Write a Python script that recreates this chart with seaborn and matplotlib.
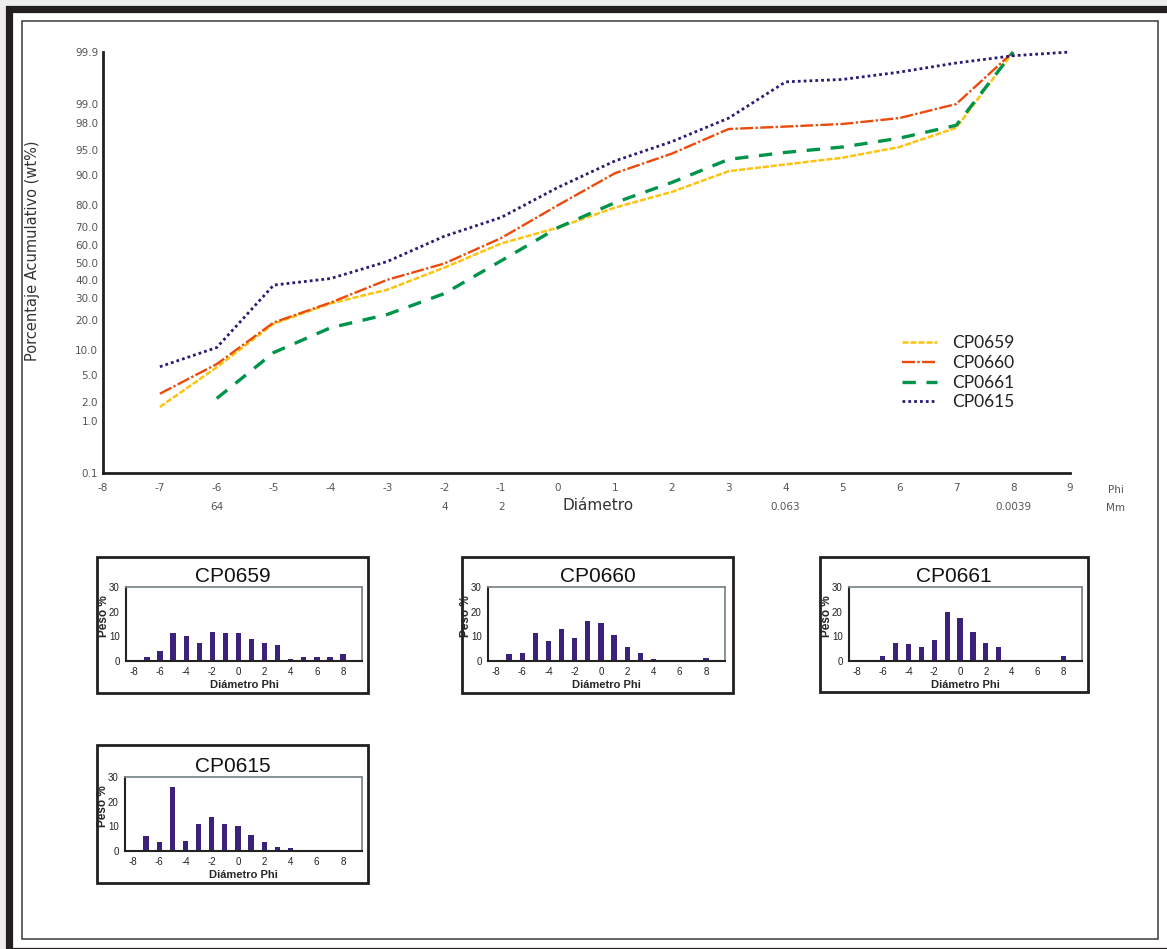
import math
import numpy as np
import pandas as pd
import matplotlib
matplotlib.use("Agg")
import matplotlib.pyplot as plt
from matplotlib.patches import Rectangle
from matplotlib.ticker import MultipleLocator, NullLocator, FixedLocator
import seaborn as sns

# ---------------- datos ----------------
# curvas acumuladas (% acumulado por diametro Phi)
phi_0659 = [-7, -6, -5, -4, -3, -2, -1, 0, 1, 2, 3, 4, 5, 6, 7, 8]
acum_0659 = [1.7, 6.2, 18.4, 27.4, 34.5, 47.0, 61.0, 69.6, 79.0, 85.0, 91.0, 92.5, 93.8, 95.5, 97.6, 99.9]
phi_0660 = [-7, -6, -5, -4, -3, -2, -1, 0, 1, 2, 3, 4, 5, 6, 7, 8]
acum_0660 = [2.7, 6.8, 18.9, 27.8, 40.0, 49.4, 64.0, 80.0, 90.5, 94.5, 97.5, 97.7, 97.9, 98.3, 99.0, 99.9]
phi_0661 = [-6, -5, -4, -3, -2, -1, 0, 1, 2, 3, 4, 5, 6, 7, 8]
acum_0661 = [2.3, 9.3, 16.9, 22.3, 32.4, 51.0, 69.6, 81.0, 88.0, 93.5, 94.7, 95.5, 96.6, 97.8, 99.9]
phi_0615 = [-7, -6, -5, -4, -3, -2, -1, 0, 1, 2, 3, 4, 5, 6, 7, 8, 9]
acum_0615 = [6.3, 10.6, 37.0, 40.7, 50.6, 65.0, 74.6, 86.5, 93.2, 96.2, 98.3, 99.6, 99.64, 99.74, 99.83, 99.88, 99.9]

muestras = ["CP0659", "CP0660", "CP0661", "CP0615"]

# histogramas (peso % por clase Phi)
phi_hist = [-7, -6, -5, -4, -3, -2, -1, 0, 1, 2, 3, 4, 5, 6, 7, 8]
peso_0659 = [1.6, 4.0, 11.2, 10.1, 7.5, 11.8, 11.2, 11.2, 8.9, 7.5, 6.5, 1.0, 1.6, 1.6, 1.6, 2.8]
peso_0660 = [2.7, 3.3, 11.2, 8.0, 13.0, 9.3, 16.1, 15.4, 10.5, 5.6, 3.1, 0.7, 0.0, 0.0, 0.4, 1.2]
peso_0661 = [0.0, 1.9, 7.4, 6.7, 5.5, 8.6, 19.9, 17.6, 11.6, 7.4, 5.5, 0.5, 0.5, 0.5, 0.5, 1.9]
peso_0615 = [6.0, 3.5, 25.9, 4.2, 10.9, 13.8, 10.9, 10.2, 6.5, 3.5, 1.8, 1.2, 0.0, 0.0, 0.0, 0.0]

# ejes
yticks_pct = [0.1, 1.0, 2.0, 5.0, 10.0, 20.0, 30.0, 40.0, 50.0, 60.0, 70.0, 80.0, 90.0, 95.0, 98.0, 99.0, 99.9]
xticks_phi = list(range(-8, 10))
mm_pos = [-6, -2, -1, 4, 8]
mm_lab = ["64", "4", "2", "0.063", "0.0039"]

# ---------------- escala probabilistica ----------------
_zg = np.linspace(-6, 6, 6001)
_pg = 50.0 * (1.0 + np.array([math.erf(v / math.sqrt(2)) for v in _zg]))


def pct_a_z(p):
    return np.interp(np.asarray(p, dtype=float), _pg, _zg)


def z_a_pct(z):
    return np.interp(np.asarray(z, dtype=float), _zg, _pg)


W, H = 1167, 949


def px_rect(x0, y0, x1, y1):
    return [x0 / W, 1 - y1 / H, (x1 - x0) / W, (y1 - y0) / H]


sns.set_style("white")
plt.rcParams["font.family"] = ["DejaVu Sans"]
plt.rcParams["axes.unicode_minus"] = False
NEGRO = "#231f20"

fig = plt.figure(figsize=(W / 100, H / 100), dpi=100, facecolor="#ededed")

# marco exterior (detras de los ejes)
fig.add_artist(Rectangle((8.5 / W, 1 - 950.5 / H), (1200 - 8.5) / W, (950.5 - 8.5) / H,
                         transform=fig.transFigure, facecolor="white", edgecolor=NEGRO, lw=5.2,
                         zorder=-2))
fig.add_artist(Rectangle((22 / W, 1 - 939 / H), (1158 - 22) / W, (939 - 21) / H,
                         transform=fig.transFigure, facecolor="none", edgecolor="#3a3a3a", lw=1.1,
                         zorder=-1))

# ---------------- grafico principal ----------------
ax = fig.add_axes(px_rect(103, 52, 1070, 473))
ax.patch.set_alpha(0)
ax.set_yscale("function", functions=(pct_a_z, z_a_pct))

estilos = {
    "CP0659": dict(color="#ffc20e", lw=1.8, linestyle=(0, (2.4, 0.8))),
    "CP0660": dict(color="#ec4a0c", lw=1.7, linestyle=(0, (5.5, 1.0, 1.0, 1.0))),
    "CP0661": dict(color="#00944a", lw=2.4, linestyle=(0, (4.0, 3.2))),
    "CP0615": dict(color="#2e1a72", lw=2.0, linestyle=(0, (1.0, 1.1))),
}
series = {
    "CP0659": (phi_0659, acum_0659),
    "CP0660": (phi_0660, acum_0660),
    "CP0661": (phi_0661, acum_0661),
    "CP0615": (phi_0615, acum_0615),
}
for m in muestras:
    xs, ys = series[m]
    sns.lineplot(x=xs, y=ys, ax=ax, label=m, estimator=None, sort=False, **estilos[m])
for ln in ax.lines:
    ln.set_clip_on(False)

ax.set_xlim(-8, 9)
ax.set_ylim(0.1, 99.9)
ax.yaxis.set_major_locator(FixedLocator(yticks_pct))
ax.yaxis.set_minor_locator(NullLocator())
ax.set_yticklabels([f"{v:.1f}" for v in yticks_pct])
ax.set_xticks(xticks_phi)
ax.set_xticklabels([str(v) for v in xticks_phi])
ax.set_xlabel("")
ax.set_ylabel("Porcentaje Acumulativo (wt%)", fontsize=10.5, color="#333333")
ax.yaxis.set_label_coords(-0.065, 0.527)

for s in ["top", "right"]:
    ax.spines[s].set_visible(False)
for s in ["left", "bottom"]:
    ax.spines[s].set_color(NEGRO)
    ax.spines[s].set_linewidth(2.0)
ax.tick_params(axis="x", direction="in", length=8.5, width=1.8, color=NEGRO,
               labelsize=7.5, labelcolor="#555555", pad=7.5)
ax.tick_params(axis="y", direction="in", length=5, width=1.8, color=NEGRO,
               labelsize=7.5, labelcolor="#555555", pad=3.5)

tr = ax.get_xaxis_transform()
for p, lab in zip(mm_pos, mm_lab):
    ax.text(p, -0.081, lab, transform=tr, ha="center", va="center", fontsize=7.5, color="#555555")
ax.text(9.8, -0.04, "Phi", transform=tr, ha="center", va="center", fontsize=7.5, color="#555555", clip_on=False)
ax.text(9.8, -0.083, "Mm", transform=tr, ha="center", va="center", fontsize=7.5, color="#555555", clip_on=False)
ax.text(0.512, -0.078, "Diámetro", transform=ax.transAxes, ha="center", va="center",
        fontsize=11, color="#333333")

leg = ax.legend(loc="upper left", bbox_to_anchor=(902 / W, 1 - 335 / H), bbox_transform=fig.transFigure,
                frameon=False, borderpad=0, borderaxespad=0, handlelength=2.0, handletextpad=0.9,
                labelspacing=0.22, prop={"family": "Lato", "size": 12.5})
for t in leg.get_texts():
    t.set_color("#222222")

# ---------------- histogramas ----------------
BARRA = "#3b2179"
paneles = [
    ((97, 557, 368, 693), (126, 587, 362, 661), "CP0659", peso_0659),
    ((462, 557, 733, 693), (488, 587, 725, 661), "CP0660", peso_0660),
    ((820, 557, 1088, 692), (849, 587, 1082, 661), "CP0661", peso_0661),
    ((97, 745, 368, 883), (125, 777, 362, 851), "CP0615", peso_0615),
]
for caja, area, titulo, pesos in paneles:
    bx0, by0, bx1, by1 = caja
    fig.add_artist(Rectangle((bx0 / W, 1 - by1 / H), (bx1 - bx0) / W, (by1 - by0) / H,
                             transform=fig.transFigure, facecolor="none", edgecolor=NEGRO, lw=2.0,
                             zorder=-1))
    fig.text((bx0 + bx1) / 2 / W, 1 - (area[1] - 5) / H, titulo, ha="center", va="baseline",
             fontsize=15, family="Liberation Sans", color="#111111")
    hx = fig.add_axes(px_rect(*area))
    sns.barplot(x=phi_hist, y=pesos, native_scale=True, width=0.4, color=BARRA,
                saturation=1, linewidth=0, ax=hx)
    hx.set_xlim(-8.6, 9.45)
    hx.set_ylim(0, 30)
    hx.set_yticks([0, 10, 20, 30])
    hx.xaxis.set_major_locator(MultipleLocator(2))
    hx.xaxis.set_minor_locator(MultipleLocator(1))
    for s in ["top", "right"]:
        hx.spines[s].set_color("#7f8a8c")
        hx.spines[s].set_linewidth(1.3)
    for s in ["left", "bottom"]:
        hx.spines[s].set_color("#222222")
        hx.spines[s].set_linewidth(1.5)
    hx.tick_params(axis="both", which="both", direction="out", color="#222222",
                   labelsize=7, labelcolor="#222222")
    hx.tick_params(axis="x", which="major", length=2.5, width=1, pad=1.5)
    hx.tick_params(axis="x", which="minor", length=2.5, width=1)
    hx.tick_params(axis="y", length=2.5, width=1, pad=2)
    for t in hx.get_xticklabels() + hx.get_yticklabels():
        t.set_family("Liberation Sans")
    hx.set_xlabel("Diámetro Phi", fontsize=8, fontweight="bold", family="Liberation Sans")
    hx.xaxis.set_label_coords(0.5, -0.25)
    hx.set_ylabel("Peso %", fontsize=8.5, fontweight="bold", family="Liberation Sans")
    hx.yaxis.set_label_coords(-0.068, 0.6)

fig.savefig("out.png", dpi=100, facecolor=fig.get_facecolor())
